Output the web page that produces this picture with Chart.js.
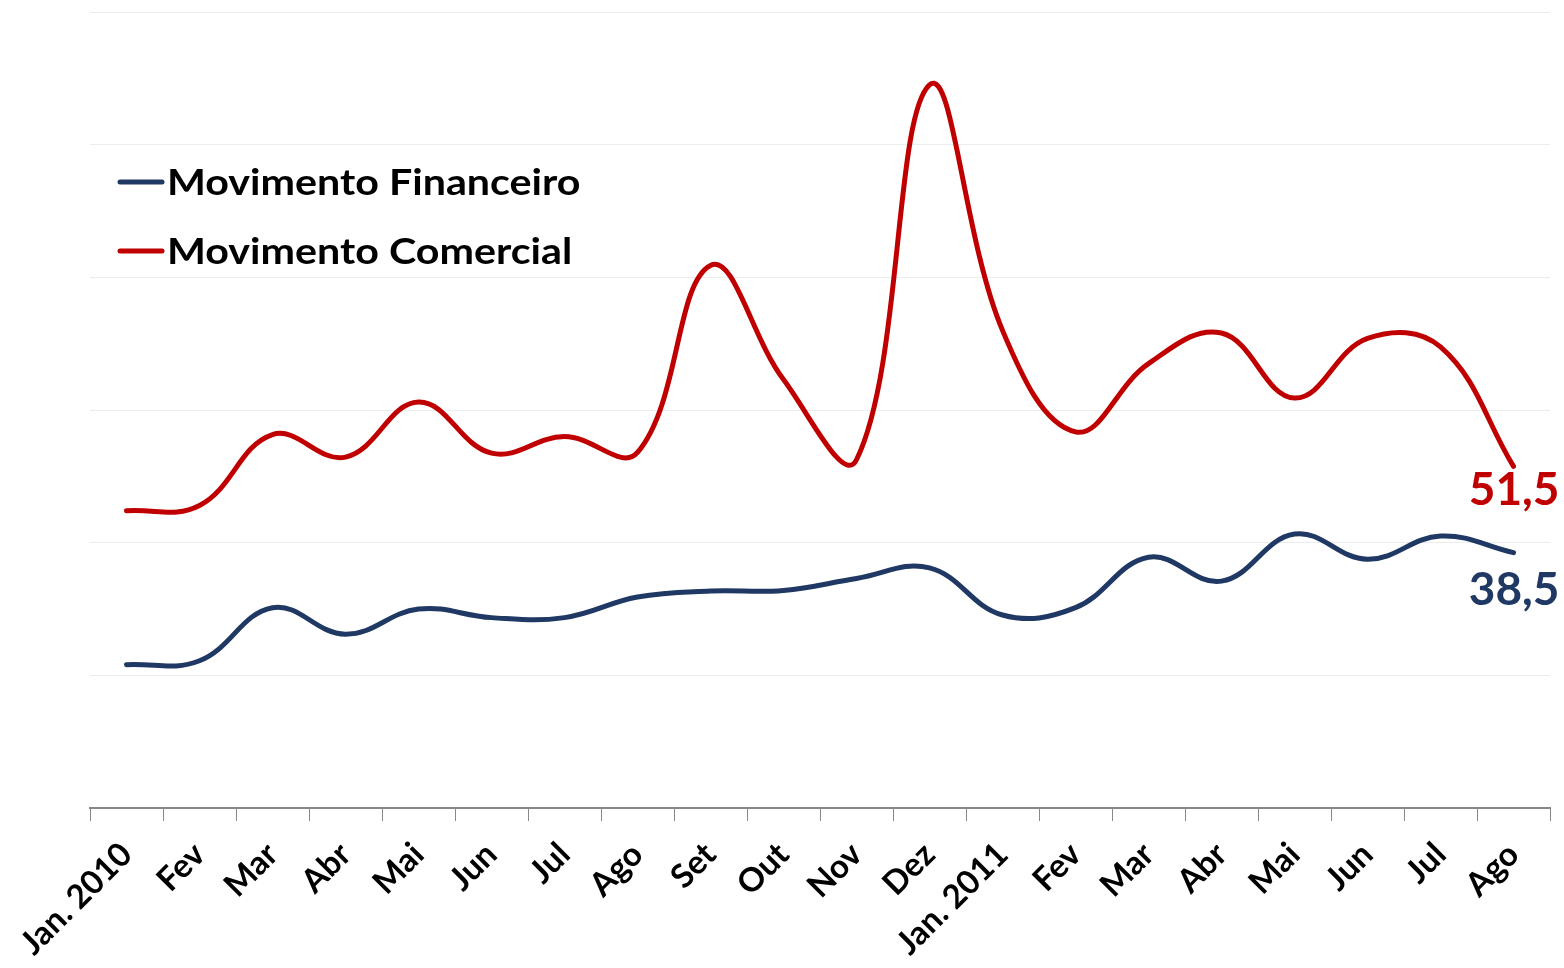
<!DOCTYPE html>
<html><head><meta charset="utf-8">
<script src="https://cdn.jsdelivr.net/npm/chart.js@4"></script>
<style>html,body{margin:0;padding:0;background:#fff;}#wrap{width:1564px;height:968px;position:relative}</style>
</head><body><div id="wrap"><canvas id="c" width="1564" height="968"></canvas></div>
<script>
const categories = ['Jan. 2010','Fev','Mar','Abr','Mai','Jun','Jul','Ago','Set','Out','Nov','Dez','Jan. 2011','Fev','Mar','Abr','Mai','Jun','Jul','Ago'];
const financeiro = [21.6,22.2,30.2,26.2,30.0,28.7,28.7,31.8,32.7,32.8,34.6,36.2,29.1,30.2,37.8,34.2,41.3,37.5,41.0,38.5];
const comercial = [44.8,45.6,56.3,52.9,61.2,53.5,56.0,53.6,81.8,64.6,52.5,109.0,72.0,56.7,67.0,71.6,61.8,70.8,69.5,51.5];
const seriesNames = ['Movimento Financeiro','Movimento Comercial'];
const endLabels = ['38,5','51,5'];
const yMin = 0, yMax = 120, yStep = 20;

const colors = ['#1F3864','#C00000'];
const FONT = 'Lato, "Open Sans", sans-serif';

const overlay = {
  id: 'overlay',
  afterDatasetsDraw(chart) {
    const ctx = chart.ctx;
    ctx.save();
    // legend
    const legY = [182, 251];
    seriesNames.forEach((name, i) => {
      ctx.strokeStyle = colors[i];
      ctx.lineWidth = 5;
      ctx.lineCap = 'round';
      ctx.beginPath();
      ctx.moveTo(120, legY[i]);
      ctx.lineTo(162, legY[i]);
      ctx.stroke();
      ctx.save();
      ctx.translate(167, legY[i] + 1);
      ctx.scale(1.145, 1);
      ctx.fillStyle = '#000';
      ctx.font = 'bold 36px ' + FONT;
      ctx.textAlign = 'left';
      ctx.textBaseline = 'middle';
      ctx.fillText(name, 0, 0);
      ctx.restore();
    });
    // end labels
    const offs = [52, 39];
    chart.data.datasets.forEach((ds, i) => {
      const meta = chart.getDatasetMeta(i);
      const p = meta.data[meta.data.length - 1];
      ctx.fillStyle = colors[i];
      ctx.font = 'bold 46px ' + FONT;
      ctx.textAlign = 'right';
      ctx.textBaseline = 'alphabetic';
      ctx.fillText(endLabels[i], p.x + 46, p.y + offs[i]);
    });
    ctx.restore();
  }
};

new Chart(document.getElementById('c'), {
  type: 'line',
  data: {
    labels: categories,
    datasets: [
      { label: seriesNames[0], data: financeiro, borderColor: colors[0], backgroundColor: colors[0], borderWidth: 5, pointRadius: 0, tension: 0.4, borderCapStyle: 'round', borderJoinStyle: 'round' },
      { label: seriesNames[1], data: comercial, borderColor: colors[1], backgroundColor: colors[1], borderWidth: 5, pointRadius: 0, tension: 0.4, borderCapStyle: 'round', borderJoinStyle: 'round' }
    ]
  },
  options: {
    responsive: false,
    animation: false,
    devicePixelRatio: 1,
    layout: { padding: { left: 90, right: 14, top: 12, bottom: 0 } },
    plugins: { legend: { display: false }, tooltip: { enabled: false } },
    scales: {
      x: {
        offset: true,
        grid: { display: true, drawOnChartArea: false, drawTicks: true, tickLength: 13, color: '#888', offset: true },
        border: { display: true, color: '#888', width: 2 },
        ticks: { color: '#000', font: { family: FONT, size: 33, weight: 'bold' }, minRotation: 45, maxRotation: 45, padding: 14, autoSkip: false },
        afterFit: (s) => { s.height = 160; }
      },
      y: {
        min: yMin, max: yMax,
        grid: { color: '#ececec', lineWidth: 1, drawTicks: false },
        border: { display: false },
        ticks: { display: false, stepSize: yStep }
      }
    }
  },
  plugins: [overlay]
});
</script></body></html>
